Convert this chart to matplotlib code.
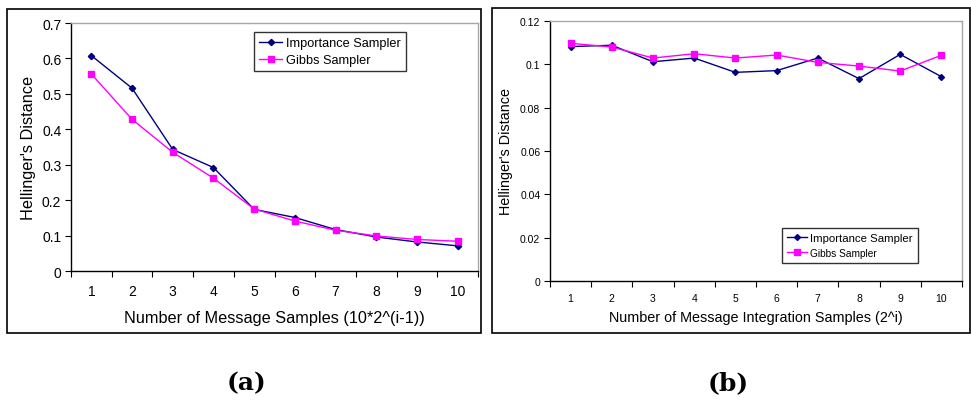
import matplotlib

matplotlib.use("Agg")

import matplotlib.pyplot as plt
import numpy as np
from matplotlib.patches import Rectangle

plt.rcParams["font.family"] = ["Liberation Sans", "DejaVu Sans"]

categories = np.arange(1, 11)

# panel (a): message samples
imp_a = [0.608, 0.516, 0.343, 0.292, 0.174, 0.151, 0.117, 0.096, 0.082, 0.071]
gibbs_a = [0.556, 0.428, 0.335, 0.262, 0.175, 0.141, 0.115, 0.099, 0.089, 0.084]

# panel (b): message integration samples
imp_b = [0.1082, 0.1088, 0.1012, 0.1029, 0.0963, 0.0971, 0.1029, 0.0934, 0.1046, 0.0943]
gibbs_b = [0.1097, 0.1080, 0.1029, 0.1049, 0.1029, 0.1043, 0.1009, 0.0992, 0.0969, 0.1042]

NAVY = "#000080"
MAGENTA = "#ff00ff"
W, H = 971, 402


def px_rect(x0, y0, x1, y1):
    return [x0 / W, 1 - y1 / H, (x1 - x0) / W, (y1 - y0) / H]


def style_axes(ax, ymax, ystep, tick_fs, yfmt):
    ax.set_xlim(0.5, 10.5)
    ax.set_ylim(0, ymax)
    ax.set_xticks(np.arange(0.5, 11, 1.0))
    ax.set_xticklabels([])
    ax.set_xticks(categories, minor=True)
    ax.set_xticklabels([str(c) for c in categories], minor=True, fontsize=tick_fs)
    ax.tick_params(axis="x", which="major", direction="out", length=4, width=0.8)
    ax.tick_params(axis="x", which="minor", length=0, pad=9)
    yt = np.arange(0, ymax + ystep / 2, ystep)
    ax.set_yticks(yt)
    ax.set_yticklabels([yfmt(v) for v in yt], fontsize=tick_fs)
    ax.tick_params(axis="y", direction="out", length=4, width=0.8, pad=3)
    for s in ("top", "right"):
        ax.spines[s].set_color("#a8a8a8")
        ax.spines[s].set_linewidth(1.0)
    for s in ("left", "bottom"):
        ax.spines[s].set_color("black")
        ax.spines[s].set_linewidth(1.0)


def fmt_num(v):
    if abs(v) < 1e-12:
        return "0"
    return f"{v:.2f}".rstrip("0").rstrip(".")


fig = plt.figure(figsize=(9.71, 4.02), dpi=100)

# panel frames
fig.patches.append(Rectangle((7 / W, 1 - 334 / H), (481 - 7) / W, (334 - 10) / H,
                             transform=fig.transFigure, fill=False, edgecolor="black", linewidth=1.2))
fig.patches.append(Rectangle((492 / W, 1 - 334 / H), (970 - 492) / W, (334 - 9) / H,
                             transform=fig.transFigure, fill=False, edgecolor="black", linewidth=1.2))

# (a)
ax1 = fig.add_axes(px_rect(71, 24, 478, 272))
ax1.plot(categories, imp_a, color=NAVY, marker="D", markersize=3.2, linewidth=1.0,
         label="Importance Sampler")
ax1.plot(categories, gibbs_a, color=MAGENTA, marker="s", markersize=4.2, linewidth=1.0,
         label="Gibbs Sampler")
style_axes(ax1, 0.7, 0.1, 10, lambda v: "0" if v == 0 else f"{v:.1f}")
ax1.set_xlabel("Number of Message Samples (10*2^(i-1))", fontsize=11.7, labelpad=9)
ax1.set_ylabel("Hellinger's Distance", fontsize=11.7, labelpad=4)
leg1 = ax1.legend(loc="upper left", bbox_to_anchor=((254 - 71) / 407, (272 - 33) / 248),
                  borderaxespad=0, fontsize=9.2, frameon=True, fancybox=False, edgecolor="black",
                  handlelength=1.8, handletextpad=0.3, borderpad=0.4, labelspacing=0.4)
leg1.get_frame().set_linewidth(1.0)

# (b)
ax2 = fig.add_axes(px_rect(550, 22, 962, 282))
ax2.plot(categories, imp_b, color=NAVY, marker="D", markersize=3.0, linewidth=1.0,
         label="Importance Sampler")
ax2.plot(categories, gibbs_b, color=MAGENTA, marker="s", markersize=4.0, linewidth=1.0,
         label="Gibbs Sampler")
style_axes(ax2, 0.12, 0.02, 7.5, fmt_num)
ax2.set_xlabel("Number of Message Integration Samples (2^i)", fontsize=10.4, labelpad=5)
ax2.set_ylabel("Hellinger's Distance", fontsize=10.4, labelpad=5)
leg2 = ax2.legend(loc="upper left", bbox_to_anchor=((782 - 550) / 412, (282 - 229) / 260),
                  borderaxespad=0, fontsize=8.2, frameon=True, fancybox=False, edgecolor="black",
                  handlelength=1.8, handletextpad=0.3, borderpad=0.4, labelspacing=0.5)
leg2.get_frame().set_linewidth(1.0)
leg2.get_texts()[1].set_fontsize(7.3)

# captions
fig.text(246 / W, 1 - 383 / H, "(a)", fontsize=18, fontweight="bold", family="DejaVu Serif",
         ha="center", va="center")
fig.text(728 / W, 1 - 383 / H, "(b)", fontsize=18, fontweight="bold", family="DejaVu Serif",
         ha="center", va="center")

fig.savefig("out.png", dpi=100)
